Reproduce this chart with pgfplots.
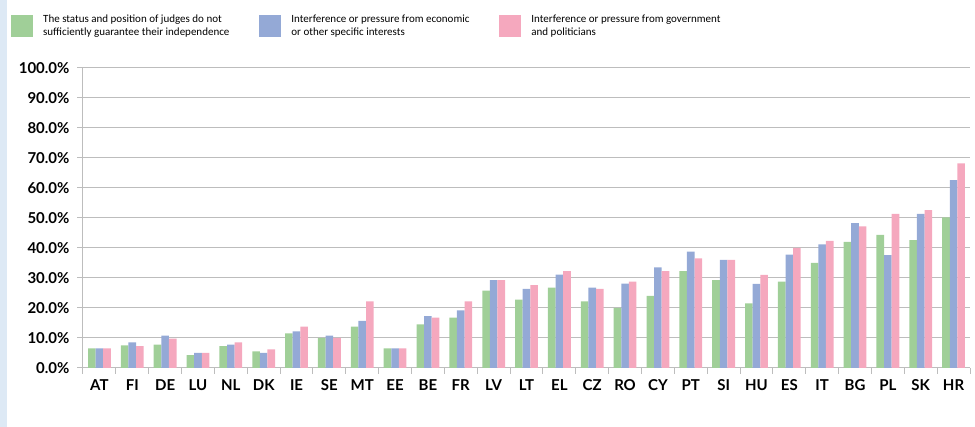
\documentclass[border=0pt]{standalone}
\usepackage{pgfplots}
\pgfplotsset{compat=1.18}
\usepackage{fontspec}
\setmainfont{Lato}
\newfontfamily\legfont{Carlito}
\definecolor{cgreen}{HTML}{A0CF98}
\definecolor{cblue}{HTML}{94A9D6}
\definecolor{cpink}{HTML}{F5A8BE}
\definecolor{strip}{HTML}{DDE9F5}
\definecolor{gridc}{HTML}{BDBDBD}
\begin{document}
\begin{tikzpicture}
\useasboundingbox (0,0) rectangle (975pt,427pt);
\fill[strip] (0,0) rectangle (7pt,427pt);
\begin{axis}[
  at={(83pt,59pt)}, anchor=south west,
  scale only axis, width=887pt, height=300pt,
  ybar=0pt, bar width=7.6pt,
  xmin=-0.5, xmax=26.5, ymin=0, ymax=100,
  axis x line*=bottom, axis y line*=left,
  axis line style={gridc, line width=1pt},
  xtick={0,...,26},
  xticklabels={AT,FI,DE,LU,NL,DK,IE,SE,MT,EE,BE,FR,LV,LT,EL,CZ,RO,CY,PT,SI,HU,ES,IT,BG,PL,SK,HR},
  major x tick style={draw=none},
  minor xtick={-0.5,0.5,...,26.5},
  minor x tick style={draw=gridc, line width=1pt},
  minor tick length=6pt,
  major tick length=6pt,
  tick align=outside,
  ytick={0,10,...,100},
  ytick style={draw=gridc, line width=1pt},
  ymajorgrids, grid style={gridc, line width=1pt},
  yticklabel={\pgfmathprintnumber[fixed,fixed zerofill,precision=1,assume math mode=true]{\tick}\%},
  ticklabel style={font=\fontsize{15}{18}\selectfont\bfseries, text=black},
  x tick label style={yshift=-2pt},
  y tick label style={xshift=-4pt},
  /pgf/number format/assume math mode=true,
  legend columns=3,
  legend cell align=left,
  legend style={at={(-0.0846,1.19)}, anchor=north west, draw=none, fill=none,
     nodes={align=left, font=\legfont\fontsize{11}{12.5}\selectfont, inner sep=2pt},
     /tikz/every odd column/.append style={column sep=8pt},
     /tikz/every even column/.append style={column sep=28pt}},
  legend image code/.code={\fill[#1] (0pt,-11pt) rectangle (22pt,11pt);},
]
\addplot[fill=cgreen, draw=none] coordinates {
(0,6.5)(1,7.5)(2,7.8)(3,4.3)(4,7.3)(5,5.5)(6,11.5)(7,10)(8,13.8)(9,6.5)(10,14.5)(11,16.8)(12,25.8)(13,22.8)(14,26.8)(15,22.2)(16,20)(17,24)(18,32.3)(19,29.3)(20,21.5)(21,28.8)(22,35)(23,42)(24,44.4)(25,42.6)(26,50.2)};
\addplot[fill=cblue, draw=none] coordinates {
(0,6.5)(1,8.5)(2,10.8)(3,5)(4,7.8)(5,5)(6,12.2)(7,10.8)(8,15.7)(9,6.5)(10,17.3)(11,19.2)(12,29.3)(13,26.4)(14,31.1)(15,26.8)(16,28.1)(17,33.5)(18,38.8)(19,36)(20,28)(21,37.8)(22,41.2)(23,48.3)(24,37.6)(25,51.4)(26,62.6)};
\addplot[fill=cpink, draw=none] coordinates {
(0,6.5)(1,7.3)(2,9.8)(3,5)(4,8.5)(5,6.2)(6,13.8)(7,10)(8,22.2)(9,6.5)(10,16.8)(11,22.2)(12,29.3)(13,27.6)(14,32.3)(15,26.4)(16,28.8)(17,32.3)(18,36.5)(19,36)(20,31)(21,40)(22,42.4)(23,47.2)(24,51.4)(25,52.6)(26,68.2)};
\addlegendentry{The status and position of judges do not\\sufficiently guarantee their independence}
\addlegendentry{Interference or pressure from economic\\or other specific interests}
\addlegendentry{Interference or pressure from government\\and politicians}
\end{axis}
\end{tikzpicture}
\end{document}
